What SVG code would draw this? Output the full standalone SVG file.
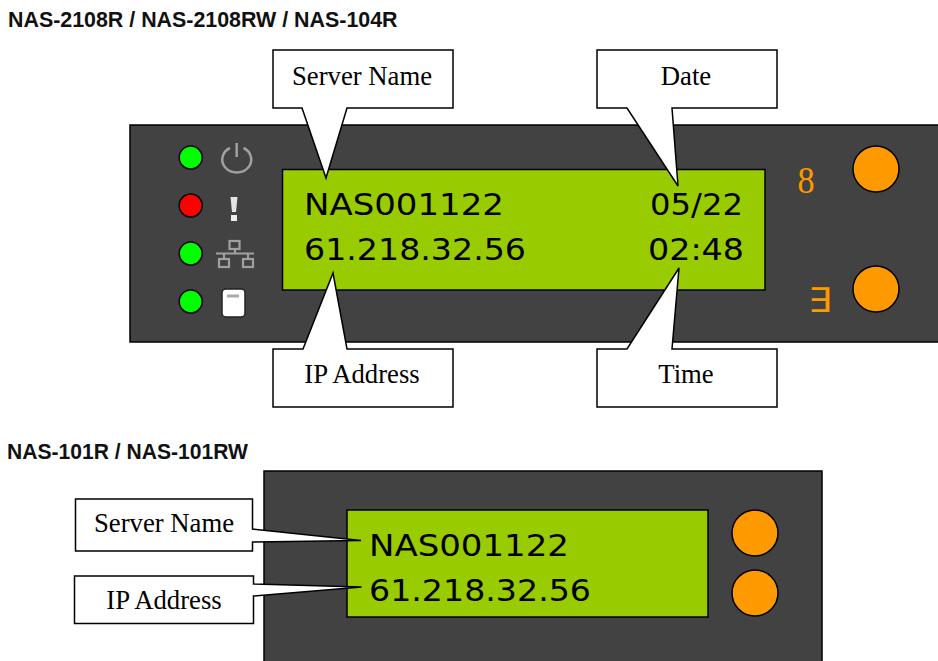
<svg xmlns="http://www.w3.org/2000/svg" width="938" height="661" viewBox="0 0 938 661">
<defs><filter id="soft" x="-20%" y="-20%" width="140%" height="140%"><feGaussianBlur stdDeviation=".6"/></filter></defs>
<style>
.title{font:bold 21.400px "Liberation Sans",Arial,sans-serif;fill:#111}
.panel{fill:#424242;stroke:#000;stroke-width:1.5}
.lcd{fill:#99cc00;stroke:#000;stroke-width:1.5}
.lcdt{font:30px "DejaVu Sans",sans-serif;fill:#000}
.led{stroke:#000;stroke-width:1.500}
.btn{fill:#ff9900;stroke:#000;stroke-width:1.5}
.call{fill:#fff;stroke:#000;stroke-width:1.5;stroke-linejoin:miter}
.callt{font:26.700px "Liberation Serif","Times New Roman",serif;fill:#000;text-anchor:middle}
.ic{fill:none;stroke:#a0a0a0}
.glyph{fill:#ff9900}
</style>
<rect width="938" height="661" fill="#fff"/>
<text class="title" x="8" y="27">NAS-2108R / NAS-2108RW / NAS-104R</text>
<text class="title" x="7" y="458.500" textLength="241" lengthAdjust="spacingAndGlyphs">NAS-101R / NAS-101RW</text>
<g id="panel-large">
<rect class="panel" x="130" y="125" width="815" height="217"/>
<rect class="lcd" x="282.500" y="169.500" width="482.500" height="120.500"/>
<text class="lcdt" x="304" y="214.500" textLength="200" lengthAdjust="spacingAndGlyphs">NAS001122</text>
<text class="lcdt" x="304" y="260" textLength="222" lengthAdjust="spacingAndGlyphs">61.218.32.56</text>
<text class="lcdt" x="650" y="214.500" textLength="93" lengthAdjust="spacingAndGlyphs">05/22</text>
<text class="lcdt" x="648" y="260" textLength="96" lengthAdjust="spacingAndGlyphs">02:48</text>
<circle class="led" cx="190.700" cy="157.500" r="11.500" fill="#00ff00"/>
<circle class="led" cx="190.700" cy="205.500" r="11.500" fill="#ff0000"/>
<circle class="led" cx="190.700" cy="253.500" r="11.500" fill="#00ff00"/>
<circle class="led" cx="190.700" cy="301.500" r="11.500" fill="#00ff00"/>
<g id="icon-power" filter="url(#soft)"><path class="ic" stroke-width="2.500" d="M230 148a14.500 13 0 1 0 13.500 0"/><path class="ic" stroke-width="2.500" d="M236.700 143v14"/></g>
<g id="icon-alert" filter="url(#soft)"><path d="M230.500 197h7l-1.500 15h-4z" fill="#e4e4e4"/><rect x="231" y="215" width="6" height="6" fill="#eee"/></g>
<g id="icon-network" filter="url(#soft)"><g class="ic" stroke-width="2.200"><rect x="229.500" y="241" width="10" height="8"/><path d="M235 249v4M216 253.500h38M224 253v5M248 253v5"/><rect x="219" y="259" width="10" height="8"/><rect x="243" y="259" width="10" height="8"/></g></g>
<g id="icon-disk"><rect x="222" y="289" width="23" height="28" rx="4" fill="#fff" stroke="#222" stroke-width="1.500"/><path d="M227 296h12" stroke="#aaa" stroke-width="3"/></g>
<text class="glyph" transform="translate(797.500 193) scale(.9 1)" font-family="'Liberation Serif',serif" font-size="38">8</text>
<text class="glyph" transform="translate(808 312) scale(1.100 1)" font-family="'DejaVu Sans',sans-serif" font-size="34">∃</text>
<circle class="btn" cx="876" cy="169" r="23"/>
<circle class="btn" cx="876" cy="289" r="23"/>
</g>
<g id="panel-small">
<rect class="panel" x="264" y="471" width="558" height="200"/>
<rect class="lcd" x="347" y="510" width="361" height="107"/>
<text class="lcdt" x="369" y="556" textLength="200" lengthAdjust="spacingAndGlyphs">NAS001122</text>
<text class="lcdt" x="369" y="601" textLength="222" lengthAdjust="spacingAndGlyphs">61.218.32.56</text>
<circle class="btn" cx="755" cy="533" r="23"/>
<circle class="btn" cx="755" cy="593" r="23"/>
</g>
<g id="connectors">
<g id="callout-server-name"><path class="call" d="M273 50H453V108H347L326 178 302 108H273Z"/><text class="callt" x="362" y="85">Server Name</text></g>
<g id="callout-date"><path class="call" d="M597 50H777V108H672L678 186 627 108H597Z"/><text class="callt" x="686" y="85">Date</text></g>
<g id="callout-ip"><path class="call" d="M273 349H303L333 273 347 349H453V407H273Z"/><text class="callt" x="362" y="383">IP Address</text></g>
<g id="callout-time"><path class="call" d="M597 349H627L679 268 672 349H777V407H597Z"/><text class="callt" x="686" y="383">Time</text></g>
<g id="callout-server-name-2"><path class="call" d="M75.500 499H252.500V529L361 540.500 252.500 542V551H75.500Z"/><text class="callt" x="164" y="532">Server Name</text></g>
<g id="callout-ip-2"><path class="call" d="M74.500 576H253.500V584L361.500 587 253.500 596V623.500H74.500Z"/><text class="callt" x="164" y="609">IP Address</text></g>
</g>
</svg>
